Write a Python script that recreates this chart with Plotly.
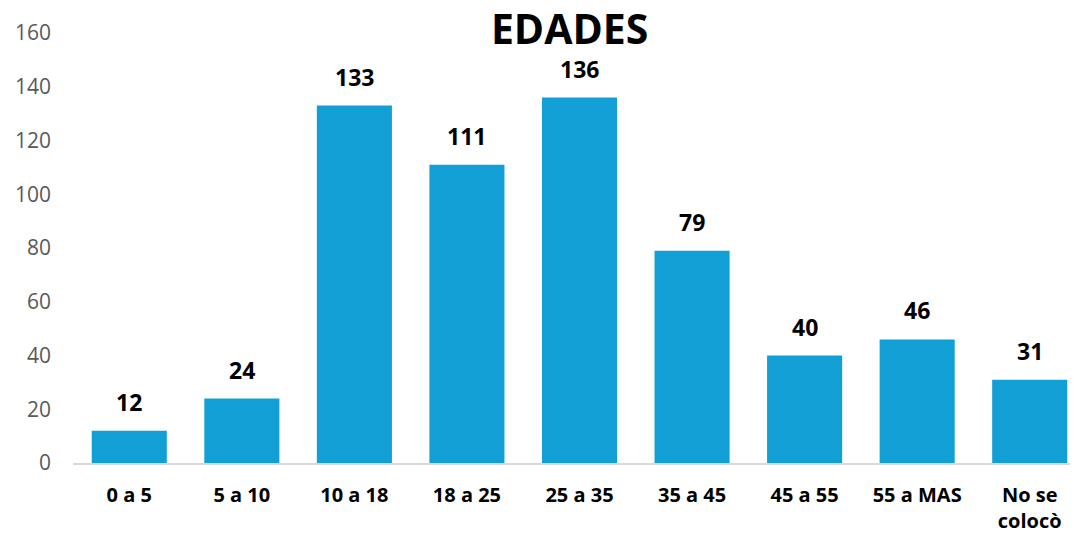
import plotly.graph_objects as go

categorias = ['0 a 5', '5 a 10', '10 a 18', '18 a 25', '25 a 35',
              '35 a 45', '45 a 55', '55 a MAS', 'No se<br>colocò']
valores = [12, 24, 133, 111, 136, 79, 40, 46, 31]
y_ticks = [0, 20, 40, 60, 80, 100, 120, 140, 160]

fig = go.Figure(go.Bar(x=categorias, y=valores, marker_color='#129FD6',
                       marker_line_width=0))

for c, v in zip(categorias, valores):
    fig.add_annotation(x=c, y=v, text=str(v), showarrow=False, yshift=29,
                       font=dict(family='Open Sans', size=23, color='black', weight='bold'))

fig.update_layout(
    width=1078, height=538,
    paper_bgcolor='white', plot_bgcolor='white',
    margin=dict(l=65, r=0, t=25, b=83),
    bargap=0.333,
    title=dict(text='<b>EDADES</b>', x=0.521, xanchor='center', y=0.959, yanchor='middle',
               font=dict(family='Open Sans', size=41, color='black')),
    showlegend=False,
)
fig.update_xaxes(range=[-0.5, 8.5], showline=True, linecolor='#D9D9D9', linewidth=2,
                 ticks='', ticklabelstandoff=13,
                 tickfont=dict(family='Open Sans', size=20, color='black', weight='bold'))
fig.update_yaxes(range=[0, 160], tickvals=y_ticks, showgrid=False, zeroline=False,
                 ticklabelstandoff=21,
                 tickfont=dict(family='Open Sans', size=21, color='#595959'))

fig.write_html('out.html')
